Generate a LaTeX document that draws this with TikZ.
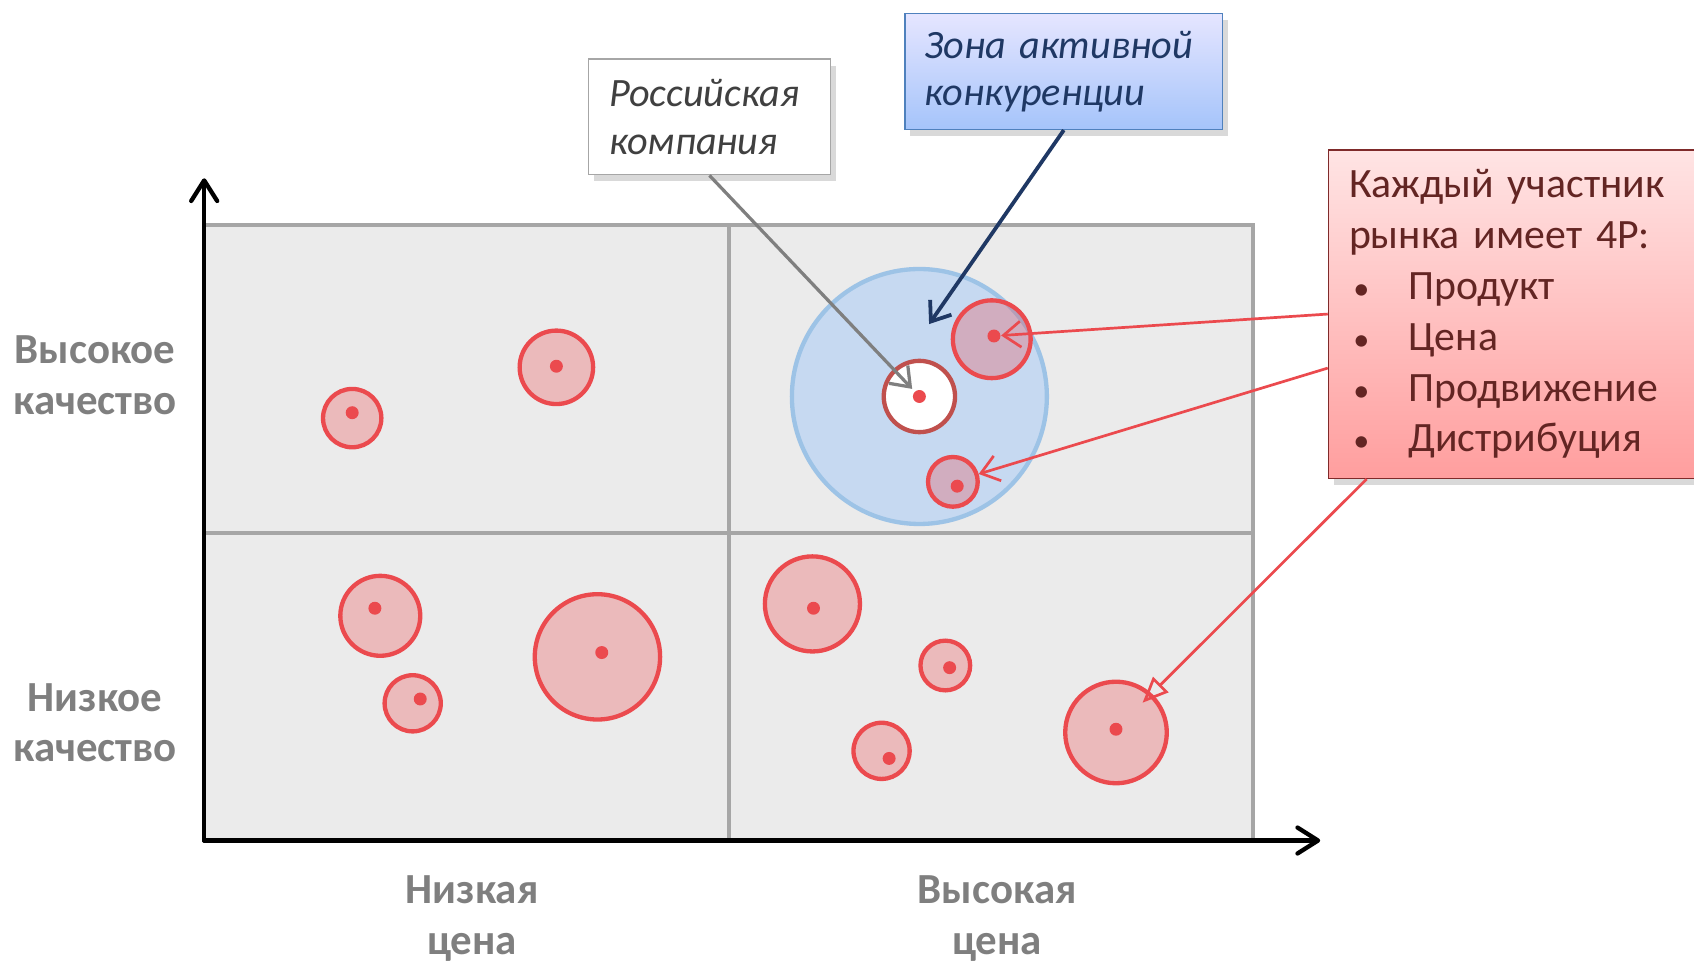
\documentclass[tikz,border=0pt]{standalone}
\usepackage{fontspec}
\setmainfont{Carlito}
\usetikzlibrary{arrows.meta,shadows}

\definecolor{cred}{HTML}{EB4A4E}
\definecolor{gridgray}{HTML}{A6A6A6}
\definecolor{bggray}{HTML}{EBEBEB}
\definecolor{lblgray}{HTML}{7F7F7F}
\definecolor{zonefill}{HTML}{C6D9F1}
\definecolor{zoneline}{HTML}{9DC3E6}
\definecolor{rusline}{HTML}{C0504D}
\definecolor{navy}{HTML}{1F3864}
\definecolor{navyline}{HTML}{4F81BD}
\definecolor{infotext}{HTML}{632523}
\definecolor{infoline}{HTML}{7F2A2A}

\newcommand{\txtsize}{\fontsize{11.3}{13.4}\selectfont}
\newcommand{\callsize}{\fontsize{10.6}{12.5}\selectfont}
\newcommand{\bul}{\makebox[5.5mm][l]{\hspace{0.4mm}\fontsize{8.5}{8.5}\selectfont •}}

\begin{document}
\begin{tikzpicture}[x=0.1mm, y=-0.1mm,
  every node/.append style = {font=\txtsize},
  firm/.style = {circle, draw=cred, fill=cred, fill opacity=0.3, draw opacity=1, inner sep=0pt, line width=0.4mm},
  spot/.style = {circle, fill=cred, inner sep=0pt, minimum size=1.2mm},
  axlabel/.style = {font=\txtsize\bfseries, text=lblgray, align=center},
  callout/.style = {draw, anchor=north west, align=left, inner xsep=1.9mm, minimum height=10.7mm,
                    drop shadow={opacity=0.3, shadow xshift=0.5mm, shadow yshift=-0.6mm}},
  axis/.style = {line width=0.4mm, line cap=round, -{Straight Barb[length=1.9mm, width=2.4mm, round]}},
  pointer/.style = {line width=0.25mm, draw=cred, -{Straight Barb[length=1.6mm, width=2.4mm]}}]
  \useasboundingbox (0,0) rectangle (1568,891);

  % quadrants
  \draw[gridgray, fill=bggray, line width=0.35mm] (189,208) rectangle (1160,778);
  \draw[gridgray, line width=0.35mm] (675,208) -- (675,778);
  \draw[gridgray, line width=0.35mm] (189,493) -- (1160,493);

  % axes
  \coordinate (o) at (189,778);
  \coordinate (ytop) at (189,165);
  \coordinate (xend) at (1222,778);
  \draw[axis] (o) -- (ytop);
  \draw[axis] (o) -- (xend);

  \node[axlabel] (hq) at (88,347) {Высокое\\качество};
  \node[axlabel] (lq) at (88,669) {Низкое\\качество};
  \node[axlabel] (lp) at (437,850) {Низкая\\цена};
  \node[axlabel] (hp) at (923,850) {Высокая\\цена};

  % zone of competition
  \node[circle, draw=zoneline, fill=zonefill, line width=0.4mm, minimum size=23.6mm] (z) at (851,367) {};
  \node[circle, draw=rusline, fill=white, line width=0.4mm, minimum size=6.6mm] (r) at (851,367) {};
  \node[spot] (d4) at (851,367) {};
  \coordinate (zt) at (860,300);

  % market players
  \node[firm, minimum size=5.4mm] (c1) at (326,387) {};   \node[spot] (d1) at (326,382) {};
  \node[firm, minimum size=6.8mm] (c2) at (515,340) {};   \node[spot] (d2) at (515,339) {};
  \node[firm, minimum size=7.2mm] (c5) at (918,314) {};   \node[spot] (d5) at (920,311) {};
  \node[firm, minimum size=4.6mm] (c6) at (882,446) {};   \node[spot] (d6) at (886,450) {};
  \node[firm, minimum size=7.4mm] (c7) at (352,570) {};   \node[spot] (d7) at (347,563) {};
  \node[firm, minimum size=5.2mm] (c8) at (382,651) {};   \node[spot] (d8) at (389,647) {};
  \node[firm, minimum size=11.6mm] (c9) at (553,608) {};  \node[spot] (d9) at (557,604) {};
  \node[firm, minimum size=8.8mm] (c10) at (752,559) {};  \node[spot] (d10) at (753,563) {};
  \node[firm, minimum size=4.6mm] (c11) at (875,616) {};  \node[spot] (d11) at (879,618) {};
  \node[firm, minimum size=5.2mm] (c12) at (816,695) {};  \node[spot] (d12) at (823,702) {};
  \node[firm, minimum size=9.4mm] (c13) at (1033,678) {}; \node[spot] (d13) at (1033,675) {};

  % callouts
  \node[callout, draw=gridgray, fill=white, text=black!75, text width=18.6mm,
        font=\callsize\itshape] (rus) at (544,54) {Российская\\компания};
  \node[callout, draw=navyline, top color=blue!10, bottom color={rgb,255:red,165;green,196;blue,250},
        text=navy, text width=25.8mm, inner xsep=1.8mm, font=\callsize\itshape] (zone) at (837,12)
        {Зона активной\\конкуренции};
  \node[callout, draw=infoline, top color={rgb,255:red,255;green,228;blue,228},
        bottom color={rgb,255:red,255;green,158;blue,158}, text=infotext, text width=33mm,
        minimum height=30.4mm, font=\fontsize{11}{13.4}\selectfont] (info) at (1229,138)
        {Каждый участник\\рынка имеет 4P:\\
         \bul Продукт\\
         \bul Цена\\
         \bul Продвижение\\
         \bul Дистрибуция};

  % connectors
  \draw[line width=0.3mm, lblgray, -{Straight Barb[length=1.6mm, width=2.4mm]}, shorten >=0.3mm] (rus.south) -- (d4);
  \draw[line width=0.35mm, navy, -{Straight Barb[length=1.6mm, width=2.4mm]}] (zone.south) -- (zt);
  \draw[pointer] (info.west) -- (d5);
  \draw[pointer] ([yshift=-5mm]info.west) -- (c6);
  \draw[line width=0.25mm, cred, -{Triangle[open, length=2.4mm, width=2mm]}, shorten >=2.8mm]
       ([xshift=3.6mm]info.south west) -- (d13);
\end{tikzpicture}
\end{document}
